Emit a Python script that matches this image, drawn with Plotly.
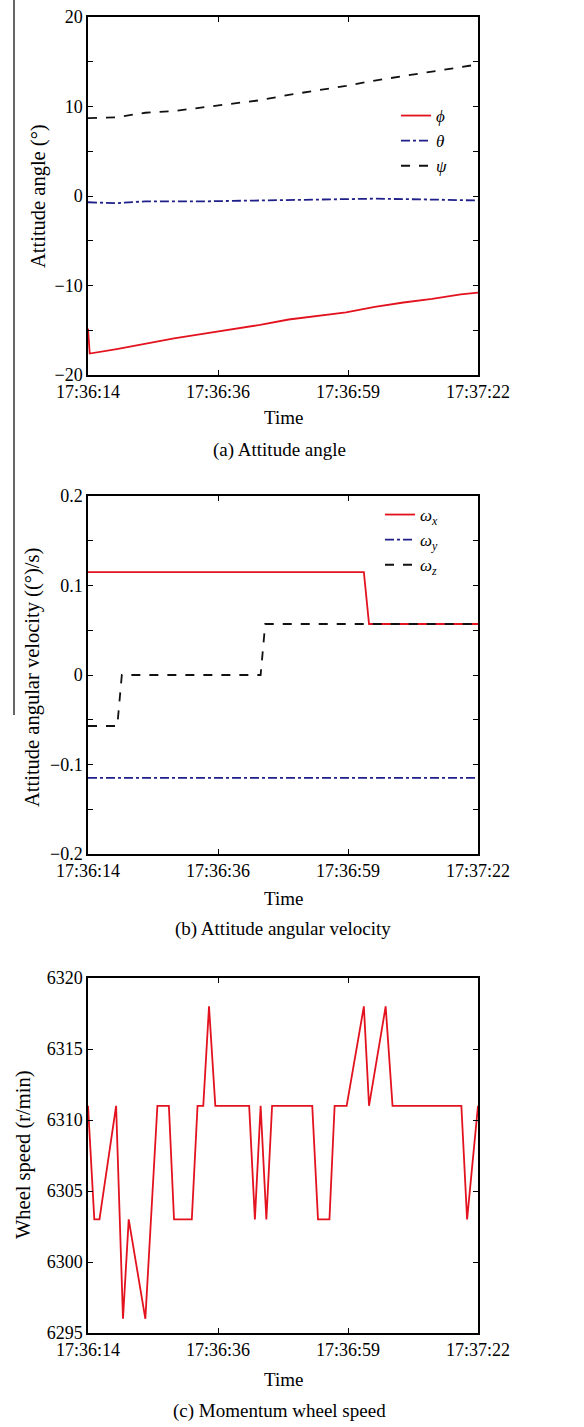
import plotly.graph_objects as go

W, H = 584, 1427

# ---------------- data ----------------
tick_vals_s = [0, 68/3, 136/3, 68]
tick_text = ["17:36:14", "17:36:36", "17:36:59", "17:37:22"]

# (a) attitude angle
t_phi = [0, 0.3, 5, 10, 15, 20, 25, 30, 35, 40, 45, 50, 55, 60, 65, 68]
phi = [-14.8, -17.6, -17.1, -16.5, -15.9, -15.4, -14.9, -14.4, -13.8, -13.4, -13.0, -12.4, -11.9, -11.5, -11.0, -10.8]
t_theta = [0, 5, 10, 20, 30, 40, 50, 60, 68]
theta = [-0.7, -0.8, -0.6, -0.6, -0.5, -0.4, -0.3, -0.4, -0.5]
t_psi = [0, 5, 10, 15, 20, 25, 30, 35, 40, 45, 50, 55, 60, 68]
psi = [8.7, 8.8, 9.3, 9.5, 9.9, 10.3, 10.7, 11.3, 11.8, 12.3, 12.9, 13.4, 13.9, 14.7]

# (b) attitude angular velocity
t_wx = [0, 48.1, 49.0, 68]
wx = [0.115, 0.115, 0.057, 0.057]
t_wy = [0, 68]
wy = [-0.115, -0.115]
t_wz = [0, 5.1, 5.9, 30.1, 30.9, 68]
wz = [-0.057, -0.057, 0.0, 0.0, 0.057, 0.057]

# (c) momentum wheel speed
t_ws = [0, 1.1, 2.0, 4.9, 6.1, 7.1, 10.0, 12.1, 14.1, 15.0, 18.1, 19.1, 20.1, 21.1, 22.2,
        28.1, 29.1, 30.1, 31.1, 32.1, 39.1, 40.1, 42.1, 43.0, 45.1, 48.1, 49.0, 51.9, 53.1,
        65.1, 66.1, 68]
ws = [6311, 6303, 6303, 6311, 6296, 6303, 6296, 6311, 6311, 6303, 6303, 6311, 6311, 6318, 6311,
      6311, 6303, 6311, 6303, 6311, 6311, 6303, 6303, 6311, 6311, 6318, 6311, 6318, 6311,
      6311, 6303, 6311]

RED = "#e3121f"
BLUE = "#1f1f8a"
BLACK = "#111111"
FONT = "Liberation Serif"
LW = 1.8

fig = go.Figure()

# (a)
fig.add_trace(go.Scatter(x=t_phi, y=phi, mode="lines", name="<i>ϕ</i>",
                         line=dict(color=RED, width=LW), xaxis="x", yaxis="y", legend="legend"))
fig.add_trace(go.Scatter(x=t_theta, y=theta, mode="lines", name="<i>θ</i>",
                         line=dict(color=BLUE, width=LW, dash="dashdot"), xaxis="x", yaxis="y", legend="legend"))
fig.add_trace(go.Scatter(x=t_psi, y=psi, mode="lines", name="<i>ψ</i>",
                         line=dict(color=BLACK, width=LW, dash="dash"), xaxis="x", yaxis="y", legend="legend"))
# (b)
fig.add_trace(go.Scatter(x=t_wx, y=wx, mode="lines", name="<i>ω</i><sub><i>x</i></sub>",
                         line=dict(color=RED, width=LW), xaxis="x2", yaxis="y2", legend="legend2"))
fig.add_trace(go.Scatter(x=t_wy, y=wy, mode="lines", name="<i>ω</i><sub><i>y</i></sub>",
                         line=dict(color=BLUE, width=LW, dash="dashdot"), xaxis="x2", yaxis="y2", legend="legend2"))
fig.add_trace(go.Scatter(x=t_wz, y=wz, mode="lines", name="<i>ω</i><sub><i>z</i></sub>",
                         line=dict(color=BLACK, width=LW, dash="dash"), xaxis="x2", yaxis="y2", legend="legend2"))
# (c)
fig.add_trace(go.Scatter(x=t_ws, y=ws, mode="lines", showlegend=False,
                         line=dict(color=RED, width=LW), xaxis="x3", yaxis="y3"))

xdom = [88/W, 478/W]
def ydom(top, bot):
    return [1 - bot/H, 1 - top/H]

axis_common = dict(showline=True, linecolor="black", linewidth=1.5, mirror="ticks",
                   ticks="inside", ticklen=5, tickcolor="black", tickwidth=1.2,
                   showgrid=False, zeroline=False, automargin=False,
                   tickfont=dict(family=FONT, size=18, color="black"))

def xax(anchor):
    d = dict(axis_common)
    d.update(domain=xdom, anchor=anchor, range=[0, 68], tickvals=tick_vals_s, ticktext=tick_text)
    return d

def yax(anchor, dom, rng, vals, texts):
    d = dict(axis_common)
    d.update(domain=dom, anchor=anchor, range=rng, tickvals=vals, ticktext=texts)
    return d

ya_vals = [-20, -15, -10, -5, 0, 5, 10, 15, 20]
ya_text = ["−20", "", "−10", "", "0", "", "10", "", "20"]
yb_vals = [-0.2, -0.15, -0.1, -0.05, 0, 0.05, 0.1, 0.15, 0.2]
yb_text = ["−0.2", "", "−0.1", "", "0", "", "0.1", "", "0.2"]
yc_vals = [6295, 6300, 6305, 6310, 6315, 6320]
yc_text = [str(v) for v in yc_vals]

fig.update_layout(
    width=W, height=H, margin=dict(l=0, r=0, t=0, b=0, autoexpand=False),
    paper_bgcolor="white", plot_bgcolor="white",
    font=dict(family=FONT, size=18, color="black"),
    xaxis=xax("y"), yaxis=yax("x", ydom(17, 375), [-20, 20], ya_vals, ya_text),
    xaxis2=xax("y2"), yaxis2=yax("x2", ydom(496, 854), [-0.2, 0.2], yb_vals, yb_text),
    xaxis3=xax("y3"), yaxis3=yax("x3", ydom(978, 1333), [6295, 6320], yc_vals, yc_text),
    legend=dict(x=396/W, y=1 - 98/H, xanchor="left", yanchor="top", bgcolor="white",
                font=dict(family=FONT, size=17), itemwidth=30, tracegroupgap=0),
    legend2=dict(x=380/W, y=1 - 497/H, xanchor="left", yanchor="top", bgcolor="white",
                 font=dict(family=FONT, size=17), itemwidth=30, tracegroupgap=0),
)

ann = []
def label(text, px, py, angle=0, size=19):
    ann.append(dict(text=text, x=px/W, y=1 - py/H, xref="paper", yref="paper",
                    showarrow=False, textangle=angle, font=dict(family=FONT, size=size, color="black"),
                    xanchor="center", yanchor="middle"))

label("Attitude angle (°)", 38, 196, -90, 20.5)
label("Time", 283, 418)
label("(a) Attitude angle", 279, 450)
label("Attitude angular velocity ((°)/s)", 32, 678, -90, 20.5)
label("Time", 283, 898)
label("(b) Attitude angular velocity", 283, 929)
label("Wheel speed (r/min)", 23, 1155, -90, 20.5)
label("Time", 283, 1379)
label("(c) Momentum wheel speed", 279, 1411)
fig.update_layout(annotations=ann)

fig.add_shape(type="line", xref="paper", yref="paper", x0=14/W, x1=14/W, y0=1 - 715/H, y1=1,
              line=dict(color="#333333", width=1.5))

fig.write_html("out.html", config={"displayModeBar": False},
               post_script="document.body.style.margin='0px';document.body.style.overflow='hidden';")
